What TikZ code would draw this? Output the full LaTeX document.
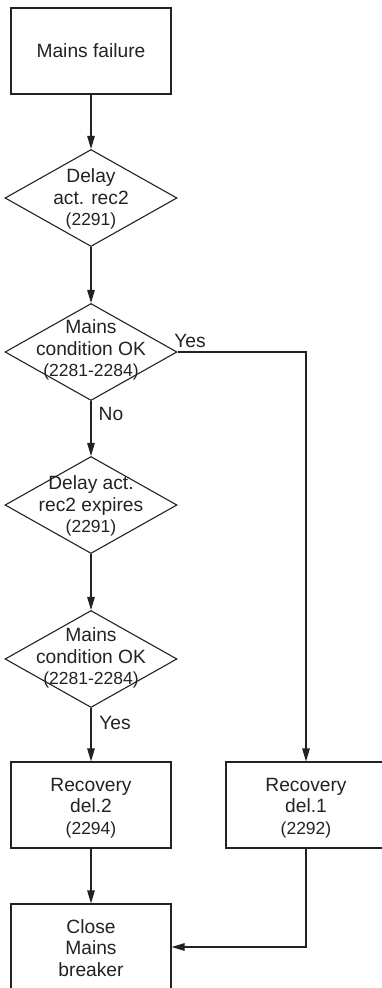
\documentclass[tikz,border=0pt]{standalone}
\usepackage{fontspec}
\setmainfont{Liberation Sans}
\usetikzlibrary{shapes.geometric,arrows.meta}
\newcommand\smallnum[1]{{\fontsize{17.5}{21}\selectfont #1}}
\definecolor{ink}{HTML}{222222}
\tikzset{
  boxnode/.style={draw=ink, line width=1.1pt, minimum width=160pt, minimum height=86pt, inner sep=0pt},
  dianode/.style={draw=ink, line width=1.1pt, shape=diamond, minimum width=172pt, minimum height=97pt, inner sep=0pt},
  txt/.style={align=center, text=ink, font=\fontsize{19.2}{21.5}\selectfont},
  lbl/.style={text=ink, font=\fontsize{19.2}{21.5}\selectfont, inner sep=0pt},
  arr/.style={draw=ink, line width=1.1pt, -{Triangle[length=13pt,width=7.5pt]}},
  ln/.style={draw=ink, line width=1.1pt}
}
\begin{document}
\begin{tikzpicture}[x=1pt,y=-1pt]
\useasboundingbox (0,0) rectangle (382,988);
% nodes
\node[boxnode] (b1) at (91,51) {};
\node[txt] at (b1) {Mains failure};
\node[dianode] (d1) at (91,198) {};
\node[txt] at (91,199) {Delay\\act. rec2\\\smallnum{(2291)}};
\node[dianode] (d2) at (91,352) {};
\node[txt] at (91,350) {Mains\\condition OK\\\smallnum{(2281-2284)}};
\node[dianode] (d3) at (91,505) {};
\node[txt] at (91,506) {Delay act.\\rec2 expires\\\smallnum{(2291)}};
\node[dianode] (d4) at (91,659) {};
\node[txt] at (91,658) {Mains\\condition OK\\\smallnum{(2281-2284)}};
\node[boxnode] (r2) at (91,805) {};
\node[txt] at (91,808) {Recovery\\del.2\\\smallnum{(2294)}};
\node[boxnode] (r1) at (306,805) {};
\node[txt] at (306,808) {Recovery\\del.1\\\smallnum{(2292)}};
\node[boxnode] (cl) at (91,947) {};
\node[txt] at (91,948) {Close\\Mains\\breaker};
% labels
\node[lbl] (yes1) at (190,341) {Yes};
\node[lbl] (no1) at (111,414) {No};
\node[lbl] (yes2) at (115,723) {Yes};
% connectors
\draw[arr] (b1.south) -- (d1.north);
\draw[arr] (d1.south) -- (d2.north);
\draw[arr] (d2.east) -| (r1.north);
\draw[arr] (d2.south) -- (d3.north);
\draw[arr] (d3.south) -- (d4.north);
\draw[arr] (d4.south) -- (r2.north);
\draw[arr] (r2.south) -- (cl.north);
\draw[arr] (r1.south) |- (cl.east);
\end{tikzpicture}
\end{document}
